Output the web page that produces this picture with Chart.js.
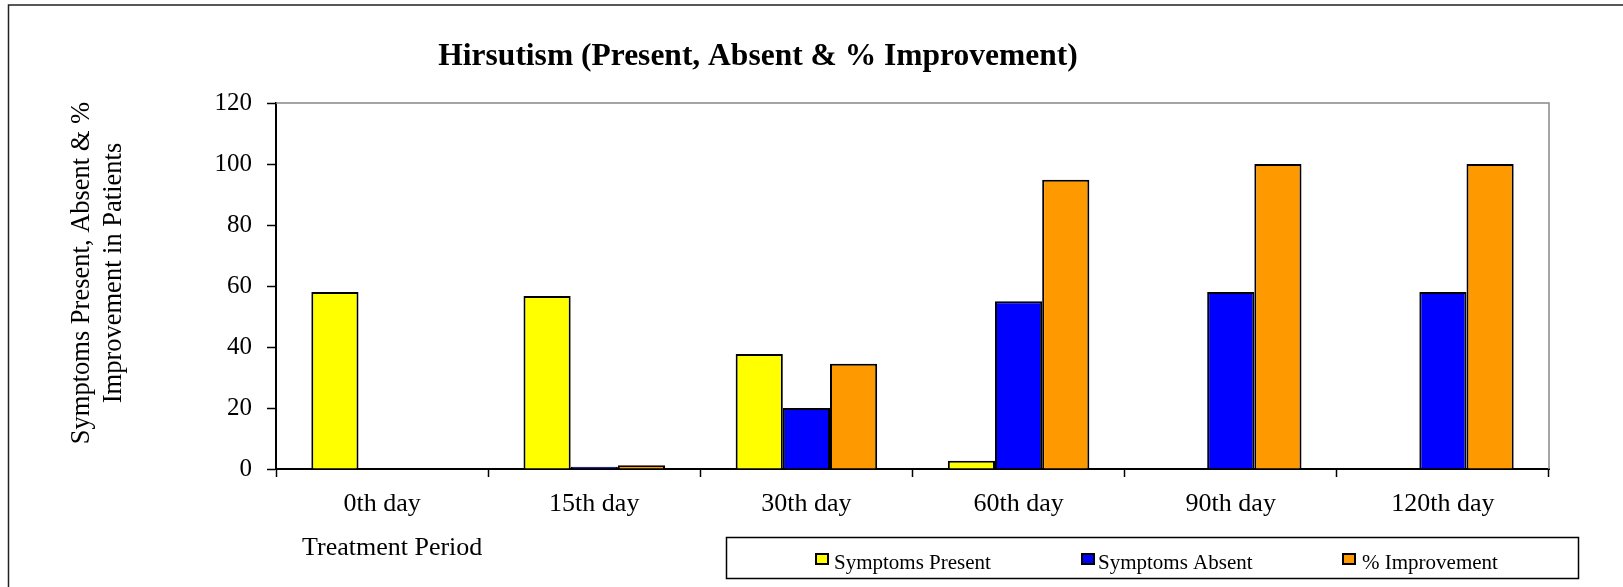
<!DOCTYPE html>
<html>
<head>
<meta charset="utf-8">
<title>Hirsutism (Present, Absent &amp; % Improvement)</title>
<script src="https://cdn.jsdelivr.net/npm/chart.js@4/dist/chart.umd.min.js"></script>
<style>
  html, body { margin: 0; padding: 0; background: #fff; }
  #wrap { width: 1623px; height: 587px; position: relative; }
</style>
</head>
<body>
<div id="wrap"><canvas id="chart"></canvas></div>
<script>
// Treatment periods on the x axis
const periods = ['0th day', '15th day', '30th day', '60th day', '90th day', '120th day'];

// Series values per period
const symptomsPresent = [58, 56.7, 37.7, 2.7, 0, 0];
const symptomsAbsent  = [0, 0.7, 20, 55, 58, 58];
const improvement     = [0, 1.2, 34.5, 94.8, 100, 100];

// Series names
const seriesNames = ['Symptoms Present', 'Symptoms Absent', '% Improvement'];

// Value axis
const yMin = 0, yMax = 120, yStep = 20;

// Text
const chartTitle = 'Hirsutism (Present, Absent & % Improvement)';
const yTitleLines = ['Symptoms Present, Absent & %', 'Improvement in Patients'];
const xTitle = 'Treatment Period';

const SERIF = "'Liberation Serif', 'Times New Roman', serif";
const colors = ['#FFFF00', '#0000FF', '#FF9900'];

// Draws the frame, titles and the boxed legend around the bar plot
const decorations = {
  id: 'decorations',
  beforeDraw(chart) {
    const ctx = chart.ctx;
    ctx.save();
    ctx.fillStyle = '#fff';
    ctx.fillRect(0, 0, chart.width, chart.height);
    ctx.restore();
  },
  afterDraw(chart) {
    const ctx = chart.ctx;
    const a = chart.chartArea;
    ctx.save();

    // outer frame (top and left edges)
    ctx.strokeStyle = '#222';
    ctx.lineWidth = 1.5;
    ctx.beginPath();
    ctx.moveTo(8.5, chart.height);
    ctx.lineTo(8.5, 5);
    ctx.lineTo(chart.width, 5);
    ctx.stroke();

    // plot area frame, top and right
    ctx.strokeStyle = '#888';
    ctx.lineWidth = 1.5;
    ctx.beginPath();
    ctx.moveTo(a.left, a.top);
    ctx.lineTo(a.right, a.top);
    ctx.lineTo(a.right, a.bottom);
    ctx.stroke();

    // chart title
    ctx.fillStyle = '#000';
    ctx.font = "bold 31.5px " + SERIF;
    ctx.textAlign = 'center';
    ctx.textBaseline = 'alphabetic';
    ctx.fillText(chartTitle, 758, 65);

    // y axis title, two rotated lines
    ctx.font = "26.5px " + SERIF;
    ctx.save();
    ctx.translate(89, 273);
    ctx.rotate(-Math.PI / 2);
    ctx.textAlign = 'center';
    ctx.fillText(yTitleLines[0], 0, 0);
    ctx.fillText(yTitleLines[1], 0, 32);
    ctx.restore();

    // x axis title
    ctx.font = "26px " + SERIF;
    ctx.textAlign = 'left';
    ctx.fillText(xTitle, 302, 555);

    // legend box
    const box = {x: 726.5, y: 537.5, w: 852, h: 41};
    ctx.strokeStyle = '#000';
    ctx.lineWidth = 1.5;
    ctx.strokeRect(box.x, box.y, box.w, box.h);

    const itemX = [816, 1082, 1343];
    const textX = [834, 1098, 1362];
    ctx.font = "21px " + SERIF;
    ctx.textAlign = 'left';
    chart.data.datasets.forEach((ds, i) => {
      ctx.fillStyle = ds.backgroundColor;
      ctx.fillRect(itemX[i], 554, 12, 10);
      ctx.strokeStyle = '#000';
      ctx.lineWidth = 2;
      ctx.strokeRect(itemX[i], 554, 12, 10);
      ctx.fillStyle = '#000';
      ctx.fillText(ds.label, textX[i], 569);
    });

    ctx.restore();
  }
};

const seriesData = [symptomsPresent, symptomsAbsent, improvement];

new Chart(document.getElementById('chart'), {
  type: 'bar',
  data: {
    labels: periods,
    datasets: seriesNames.map((name, i) => ({
      label: name,
      data: seriesData[i],
      backgroundColor: colors[i],
      borderColor: '#000',
      borderWidth: 2,
      categoryPercentage: 0.667,
      barPercentage: 1.0
    }))
  },
  options: {
    responsive: true,
    maintainAspectRatio: false,
    animation: false,
    layout: { padding: { top: 103, right: 74, bottom: 68, left: 0 } },
    plugins: {
      legend: { display: false },
      title: { display: false },
      tooltip: { enabled: false }
    },
    scales: {
      x: {
        type: 'category',
        offset: true,
        grid: {
          offset: true,
          drawOnChartArea: false,
          drawTicks: true,
          tickLength: 8,
          tickWidth: 1.5,
          color: '#000'
        },
        border: { display: true, color: '#000', width: 2 },
        ticks: {
          color: '#000',
          font: { family: SERIF, size: 26 },
          padding: 12,
          maxRotation: 0,
          autoSkip: false
        },
        afterFit(scale) { scale.height = 50; }
      },
      y: {
        min: yMin,
        max: yMax,
        grid: {
          drawOnChartArea: false,
          drawTicks: true,
          tickLength: 9,
          tickWidth: 1.5,
          color: '#000'
        },
        border: { display: true, color: '#000', width: 2 },
        ticks: {
          stepSize: yStep,
          color: '#000',
          font: { family: SERIF, size: 25 },
          padding: 15
        },
        afterFit(scale) { scale.width = 276; }
      }
    }
  },
  plugins: [decorations]
});
</script>
</body>
</html>
